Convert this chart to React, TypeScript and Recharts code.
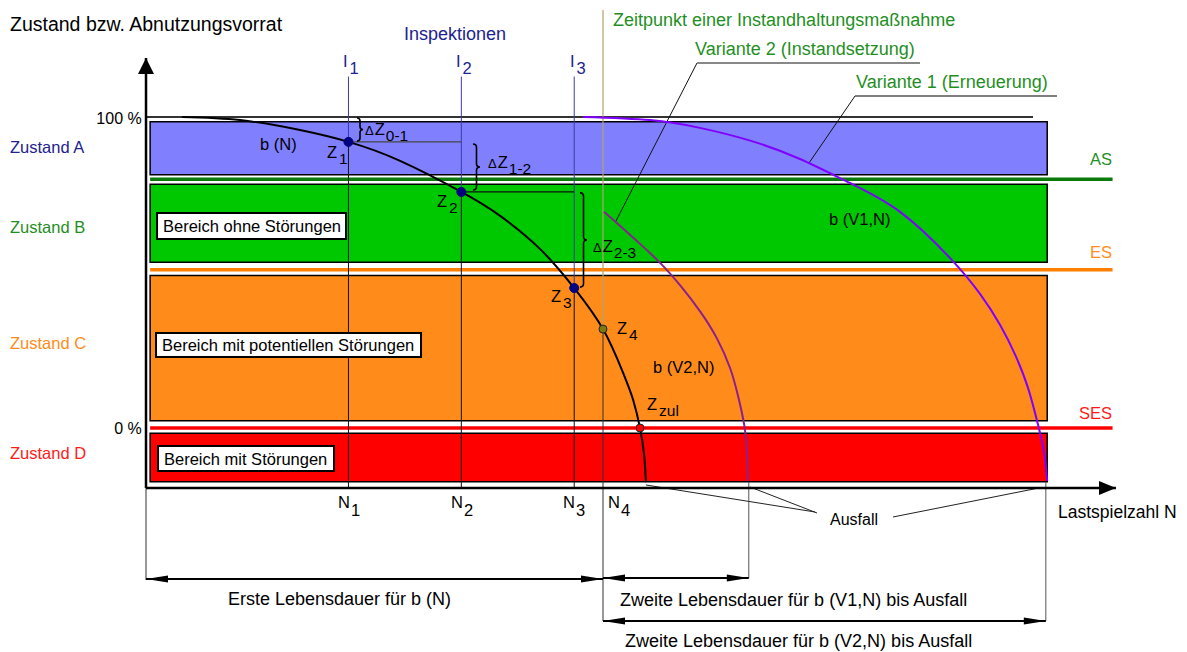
import React from 'react';
import { ComposedChart, XAxis, YAxis, Line, ReferenceArea, ReferenceLine, ReferenceDot } from 'recharts';

const W = 1187;
const H = 652;
const FONT = '"Liberation Sans", Arial, sans-serif';

// N in % of the first life (N4 = 100), Zustand in %
const X_DOMAIN: [number, number] = [-31.95, 227.79];
const Y_DOMAIN: [number, number] = [-72.03, 137.62];

/* ─── data ─────────────────────────────────────────── */
const curveN = [
  { x: 7.9, y: 100 }, { x: 20.6, y: 99.0 }, { x: 33.7, y: 95.8 }, { x: 44.3, y: 92.0 },
  { x: 55.6, y: 85.9 }, { x: 69.0, y: 75.9 }, { x: 77.5, y: 68.2 }, { x: 86.2, y: 57.6 },
  { x: 93.7, y: 45.0 }, { x: 100, y: 31.8 }, { x: 104.4, y: 17.7 }, { x: 106.6, y: 9.0 },
  { x: 108.1, y: 0 }, { x: 109.0, y: -8.7 }, { x: 109.4, y: -17.4 },
];
const curveV1 = [
  { x: 95.6, y: 100 }, { x: 110.3, y: 99.0 }, { x: 121.2, y: 96.5 }, { x: 132.2, y: 92.4 },
  { x: 143.1, y: 86.5 }, { x: 154.0, y: 78.8 }, { x: 165.0, y: 69.5 }, { x: 175.9, y: 54.7 },
  { x: 182.5, y: 43.1 }, { x: 186.9, y: 33.1 }, { x: 190.2, y: 23.5 }, { x: 193.0, y: 12.9 },
  { x: 195.2, y: 1.0 }, { x: 196.5, y: -7.7 }, { x: 197.2, y: -17.0 },
];
const curveV2 = [
  { x: 100.2, y: 69.5 }, { x: 103.7, y: 65.0 }, { x: 108.1, y: 59.2 }, { x: 112.5, y: 53.1 },
  { x: 116.8, y: 46.0 }, { x: 121.2, y: 37.6 }, { x: 124.9, y: 28.9 }, { x: 127.8, y: 19.3 },
  { x: 129.5, y: 10.6 }, { x: 130.9, y: 1.0 }, { x: 131.5, y: -8.0 }, { x: 131.7, y: -17.0 },
];

const nIndex = ['1', '2', '3', '4'];
const nValues = [44.3, 69.0, 93.7, 100];
const zIndex = ['1', '2', '3', '4', 'zul'];
const zPoints = [
  { x: 44.3, y: 92.0 }, { x: 69.0, y: 75.9 }, { x: 93.7, y: 45.0 }, { x: 100, y: 31.8 }, { x: 108.1, y: 0 },
];
const deltaNames = ['0-1', '1-2', '2-3'];
const deltaRanges = [[99.7, 92.3], [91.3, 76.5], [75.6, 45.3]];

const zustandNames = ['Zustand A', 'Zustand B', 'Zustand C', 'Zustand D'];
const zustandRanges = [[81.4, 98.5], [53.3, 78.4], [2.3, 49.0], [-17.3, -1.7]];
const bereichNames = ['Bereich ohne Störungen', 'Bereich mit potentiellen Störungen', 'Bereich mit Störungen'];
const thresholdNames = ['AS', 'ES', 'SES'];
const thresholdValues = [80, 50.9, 0];

const lifeEnds = { first: 100, v1: 131.9, v2: 196.9 };

/* ─── styling ─────────────────────────────────────── */
const zustandColors = ['#8080ff', '#00c800', '#ff8c1a', '#ff0000'];
const zustandText = ['#22228f', '#1f8f1f', '#ff8c1a', '#ff1a1a'];
const thresholdColors = ['#0a7a0a', '#ff8000', '#ff0000'];
const thresholdText = ['#1f8f1f', '#ff8c1a', '#ff1a1a'];
const zDotColors = ['#000080', '#000080', '#000080', '#7a7a10', '#ff0000'];
const NAVY = '#22228f';
const GREEN = '#1f8f1f';
const KHAKI = '#b0a468';
const NO_DOT = { r: 0, strokeWidth: 0, fill: 'none', stroke: 'none' };

type Part = { t: string; size?: number; dx?: number; dy?: number };

function txt(key: string, x: number, y: number, parts: Part[] | string, color = '#000', size = 16.5, anchor: 'start' | 'end' = 'start') {
  const ps: Part[] = typeof parts === 'string' ? [{ t: parts }] : parts;
  return (
    <ReferenceDot key={key} x={x} y={y} r={1} ifOverflow="visible"
      shape={(p: any) => (
        <text x={p.cx} y={p.cy} fill={color} fontSize={size} textAnchor={anchor} fontFamily={FONT}>
          {ps.map((q, i) => (
            <tspan key={i} fontSize={q.size ?? size} dx={q.dx ?? 0} dy={q.dy ?? 0}>{q.t}</tspan>
          ))}
        </text>
      )} />
  );
}

function seg(key: string, a: [number, number], b: [number, number], stroke: string, width = 1, shape?: any) {
  return (
    <ReferenceLine key={key} segment={[{ x: a[0], y: a[1] }, { x: b[0], y: b[1] }]}
      stroke={stroke} strokeWidth={width} ifOverflow="visible" shape={shape} />
  );
}

const arrowShape = (both: boolean, len: number, half: number, stroke: string, sw: number) => (p: any) => {
  const { x1, y1, x2, y2 } = p;
  const ang = Math.atan2(y2 - y1, x2 - x1);
  const head = (x: number, y: number, a: number) => {
    const c = Math.cos(a), s = Math.sin(a);
    const bx = x - c * len, by = y - s * len;
    return `${x},${y} ${bx - s * half},${by + c * half} ${bx + s * half},${by - c * half}`;
  };
  return (
    <g>
      <line x1={x1} y1={y1} x2={x2} y2={y2} stroke={stroke} strokeWidth={sw} />
      <polygon points={head(x2, y2, ang)} fill={stroke} />
      {both && <polygon points={head(x1, y1, ang + Math.PI)} fill={stroke} />}
    </g>
  );
};

const braceShape = (w: number) => (p: any) => {
  const x = p.x1;
  const ya = Math.min(p.y1, p.y2), yb = Math.max(p.y1, p.y2);
  const m = (ya + yb) / 2;
  const r = Math.min(w, (yb - ya) / 4);
  const d = `M${x},${ya} Q${x + w},${ya} ${x + w},${ya + r} L${x + w},${m - r} Q${x + w},${m} ${x + 2 * w},${m} ` +
    `Q${x + w},${m} ${x + w},${m + r} L${x + w},${yb - r} Q${x + w},${yb} ${x},${yb}`;
  return <path d={d} fill="none" stroke="#000" strokeWidth={1.6} />;
};

function textBox(key: string, x: number, y: number, label: string, w: number, h: number, base: number) {
  return (
    <ReferenceDot key={key} x={x} y={y} r={1} ifOverflow="visible"
      shape={(p: any) => (
        <g>
          <rect x={p.cx} y={p.cy} width={w} height={h} fill="#fff" stroke="#000" strokeWidth={2} />
          <text x={p.cx + 6} y={p.cy + base} fontSize={16.5} fontFamily={FONT} fill="#000">{label}</text>
        </g>
      )} />
  );
}

const bereichBoxes = [
  { x: 2.41, y: 69.13, w: 189, h: 26, base: 19 },
  { x: 2.19, y: 30.55, w: 265, h: 24, base: 18 },
  { x: 2.63, y: -5.79, w: 176, h: 25, base: 19 },
];
const zustandLabelY = [88.42, 62.7, 25.4, -9.97];
const thresholdLabelY = [84.57, 54.66, 2.89];
const iLabelX = [43.11, 67.83, 92.78];
const nLabelX = [42.01, 66.74, 91.25, 101.09];
const zLabelPos = [[39.61, 86.82], [63.68, 71.06], [88.62, 40.51], [103.06, 30.23], [109.63, 5.79]];
const deltaLabelPos = [[47.92, 94.21], [74.84, 83.6], [97.81, 56.59]];
const braceX = [46.17, 71.55, 94.97];

export default function App() {
  const AX_Y = -19.29;
  return (
    <div style={{ position: 'absolute', left: 0, top: 0, width: W, height: H, background: '#fff' }}>
      <ComposedChart width={W} height={H} margin={{ top: 0, right: 0, bottom: 0, left: 0 }}>
        <XAxis type="number" dataKey="x" domain={X_DOMAIN} allowDataOverflow hide />
        <YAxis type="number" dataKey="y" domain={Y_DOMAIN} allowDataOverflow hide />

        {/* Zustand bands */}
        {zustandRanges.map((r, i) => (
          <ReferenceArea key={'band' + i} x1={0.9} x2={197.2} y1={r[0]} y2={r[1]}
            fill={zustandColors[i]} fillOpacity={1} stroke="#000" strokeWidth={1.5} ifOverflow="visible" />
        ))}

        {/* 100 % line and thresholds */}
        {seg('top', [0, 100], [194.1, 100], '#333', 2)}
        {thresholdValues.map((v, i) => seg('thr' + i, [0.9, v], [211.5, v], thresholdColors[i], 3.5))}

        {/* inspections */}
        {nValues.slice(0, 3).map((n, i) => seg('iUp' + i, [n, 113], [n, zPoints[i].y], '#3a3aa8', 1))}
        {nValues.slice(0, 3).map((n, i) => seg('iLo' + i, [n, zPoints[i].y], [n, AX_Y], '#111', 1))}
        {seg('n4Up', [100, 134.4], [100, zPoints[3].y], KHAKI, 1.2)}
        {seg('n4Lo', [100, zPoints[3].y], [100, -62.06], '#333', 1)}

        {/* Delta Z connectors and braces */}
        {seg('c01', [45.3, zPoints[0].y], [nValues[1], zPoints[0].y], '#444', 1.3)}
        {seg('c12', [nValues[1], zPoints[1].y], [nValues[2], zPoints[1].y], '#111', 1.3)}
        {deltaRanges.map((r, i) => seg('br' + i, [braceX[i], r[0]], [braceX[i], r[1]], '#000', 1.6, braceShape(i === 0 ? 3 : 3.5)))}

        {/* dimension lines */}
        {seg('d0', [0, AX_Y], [0, -48.87], '#333', 1)}
        {seg('dV1', [lifeEnds.v1, -17.4], [lifeEnds.v1, -48.23], '#555', 1)}
        {seg('dV2', [lifeEnds.v2, -17.4], [lifeEnds.v2, -62.06], '#555', 1)}
        {seg('a1', [0, -48.55], [lifeEnds.first, -48.55], '#000', 2, arrowShape(true, 22, 3.5, '#000', 2))}
        {seg('a2', [lifeEnds.first, -48.23], [lifeEnds.v1, -48.23], '#000', 2, arrowShape(true, 22, 3.5, '#000', 2))}
        {seg('a3', [lifeEnds.first, -62.06], [lifeEnds.v2, -62.06], '#000', 2, arrowShape(true, 22, 3.5, '#000', 2))}

        {/* leaders */}
        {seg('l2', [120.57, 117.36], [102.84, 66.56], '#111', 1)}
        {seg('u2', [120.57, 117.36], [169.37, 117.36], '#888', 2)}
        {seg('l1', [155.14, 106.75], [145.08, 85.21], '#111', 1)}
        {seg('u1', [155.14, 106.75], [199.34, 106.75], '#555', 1.5)}
        {seg('f1', [109.41, -18.33], [146.39, -27.01], '#222', 1)}
        {seg('f2', [132.17, -18.97], [146.83, -27.33], '#222', 1)}
        {seg('f3', [195.4, -19.29], [163.46, -28.62], '#222', 1)}

        {/* axes */}
        {seg('yAx', [0, AX_Y], [0, 118.97], '#000', 2.5, arrowShape(false, 16, 8, '#000', 2.5))}
        {seg('xAx', [0, AX_Y], [212.25, AX_Y], '#000', 2.5, arrowShape(false, 17, 7, '#000', 2.5))}

        {/* curves */}
        <Line data={curveN} dataKey="y" type="natural" stroke="#000" strokeWidth={2} dot={NO_DOT} activeDot={false} legendType="none" isAnimationActive={false} />
        <Line data={curveV1} dataKey="y" type="natural" stroke="#8000ff" strokeWidth={2} dot={NO_DOT} activeDot={false} legendType="none" isAnimationActive={false} />
        <Line data={curveV2} dataKey="y" type="natural" stroke="#8a2090" strokeWidth={2} dot={NO_DOT} activeDot={false} legendType="none" isAnimationActive={false} />

        {/* Z points */}
        {zPoints.map((z, i) => (
          <ReferenceDot key={'z' + i} x={z.x} y={z.y} r={i < 3 ? 4.5 : 4} fill={zDotColors[i]}
            stroke={i < 3 ? zDotColors[i] : '#222'} strokeWidth={1} ifOverflow="visible" />
        ))}

        {/* boxes */}
        {bereichBoxes.map((b, i) => textBox('bx' + i, b.x, b.y, bereichNames[i], b.w, b.h, b.base))}

        {/* texts */}
        {txt('title', -29.76, 127.65, 'Zustand bzw. Abnutzungsvorrat', '#000', 19.5)}
        {txt('insp', 56.46, 124.76, 'Inspektionen', NAVY, 18)}
        {txt('zeit', 102.19, 129.26, 'Zeitpunkt einer Instandhaltungsmaßnahme', GREEN, 18)}
        {txt('var2', 120.13, 119.94, 'Variante 2 (Instandsetzung)', GREEN, 18)}
        {txt('var1', 155.36, 109.32, 'Variante 1 (Erneuerung)', GREEN, 18)}
        {txt('p100', -0.94, 97.75, '100 %', '#000', 16, 'end')}
        {txt('p0', -0.94, -1.93, '0 %', '#000', 16, 'end')}
        {zustandNames.map((n, i) => txt('zs' + i, -29.76, zustandLabelY[i], n, zustandText[i], 16.5))}
        {thresholdNames.map((n, i) => txt('th' + i, 211.4, thresholdLabelY[i], n, thresholdText[i], 16.5, 'end'))}
        {iLabelX.map((x, i) => txt('il' + i, x, 116.08, [{ t: 'I' }, { t: nIndex[i], dx: 2, dy: 7 }], NAVY, 16.5))}
        {nLabelX.map((x, i) => txt('nl' + i, x, -25.72, [{ t: 'N' }, { t: nIndex[i], dx: 1, dy: 8 }], '#000', 16.5))}
        {zLabelPos.map((p, i) => txt('zl' + i, p[0], p[1], [{ t: 'Z' }, { t: zIndex[i], dx: 2, dy: 6, size: 15.5 }], '#000', 16.5))}
        {deltaLabelPos.map((p, i) => txt('dl' + i, p[0], p[1], [{ t: 'Δ', size: 13 }, { t: 'Z', dx: 1 }, { t: deltaNames[i], dx: 1, dy: 6, size: 15.5 }], '#000', 16.5))}
        {txt('bN', 24.95, 89.39, 'b (N)', '#000', 16.5)}
        {txt('bV1', 149.45, 65.27, 'b (V1,N)', '#000', 16.5)}
        {txt('bV2', 110.94, 17.68, 'b (V2,N)', '#000', 16.5)}
        {txt('last', 199.56, -28.94, 'Lastspielzahl N', '#000', 17.5)}
        {txt('ausf', 149.67, -31.19, 'Ausfall', '#000', 16)}
        {txt('erste', 17.94, -56.91, 'Erste Lebensdauer für b (N)', '#000', 18)}
        {txt('zw1', 103.72, -57.23, 'Zweite Lebensdauer für b (V1,N) bis Ausfall', '#000', 18)}
        {txt('zw2', 104.81, -70.42, 'Zweite Lebensdauer für b (V2,N) bis Ausfall', '#000', 18)}
      </ComposedChart>
    </div>
  );
}
